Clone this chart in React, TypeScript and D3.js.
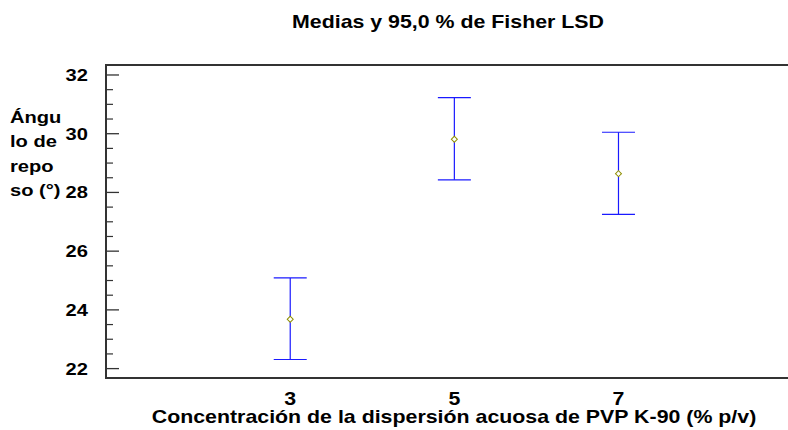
import { useMemo } from 'react';
import * as d3 from 'd3';

const W = 788;
const H = 430;

// data
const levels = [3, 5, 7];
const means = [23.68, 29.81, 28.64];
const lower = [22.31, 28.43, 27.25];
const upper = [25.09, 31.23, 30.05];
const yTicks = [22, 24, 26, 28, 30, 32];
const yLabelLines = ['Ángu', 'lo de', 'repo', 'so (°)'];

const title = 'Medias y 95,0 % de Fisher LSD';
const xTitle = 'Concentración de la dispersión acuosa de PVP K-90 (% p/v)';

const FONT = '"Liberation Sans", Arial, sans-serif';
const SX = 1.22; // the text in the picture is stretched sideways

function T({ x, y, size, anchor = 'start', children }: any) {
  return (
    <text transform={`translate(${x},${y}) scale(${SX},1)`} textAnchor={anchor}
      fontSize={size} fontWeight="bold" fill="#000">{children}</text>
  );
}

export default function App() {
  const margin = { top: 65, right: -2, bottom: 52, left: 106 };
  const innerW = W - margin.left - margin.right;
  const innerH = H - margin.top - margin.bottom;

  const x = useMemo(() => d3.scaleLinear().domain([0.755, 9.09]).range([0, innerW]), [innerW]);
  const y = useMemo(() => d3.scaleLinear().domain([21.68, 32.34]).range([innerH, 0]), [innerH]);

  const minor = d3.range(22, 32.01, 0.5).filter(v => !yTicks.includes(v));
  const cap = 16.5;
  const marker = d3.symbol(d3.symbolSquare, 18)()!;

  return (
    <svg width={W} height={H} style={{ position: 'absolute', left: 0, top: 0, background: '#fff' }}
      fontFamily={FONT}>
      <T x={448} y={27.5} size={17.5} anchor="middle">{title}</T>

      <g transform={`translate(${margin.left},${margin.top})`}>
        {/* frame */}
        <rect x={0} y={0} width={innerW} height={innerH} fill="none" stroke="#333" strokeWidth={2} />

        {/* y ticks */}
        {yTicks.map(t => (
          <g key={t}>
            <line x1={0} x2={13} y1={y(t)} y2={y(t)} stroke="#333" strokeWidth={1.3} />
            <line x1={innerW} x2={innerW - 2} y1={y(t)} y2={y(t)} stroke="#999" strokeWidth={1} />
            <T x={-18} y={y(t) + 5.9} size={16.5} anchor="end">{t}</T>
          </g>
        ))}
        {minor.map(t => (
          <line key={t} x1={0} x2={7} y1={y(t)} y2={y(t)} stroke="#333" strokeWidth={1.2} />
        ))}

        {/* error bars */}
        {levels.map((l, i) => {
          const cx = x(l);
          return (
            <g key={l}>
              <line x1={cx} x2={cx} y1={y(upper[i])} y2={y(lower[i])} stroke="#1a1aff" strokeWidth={1.2} />
              <line x1={cx - cap} x2={cx + cap} y1={y(upper[i])} y2={y(upper[i])} stroke="#1a1aff" strokeWidth={1.2} />
              <line x1={cx - cap} x2={cx + cap} y1={y(lower[i])} y2={y(lower[i])} stroke="#1a1aff" strokeWidth={1.2} />
              <path d={marker} transform={`translate(${cx},${y(means[i])}) rotate(45)`}
                fill="#fff" stroke="#8f8f00" strokeWidth={1} />
              <T x={cx} y={innerH + 27} size={17.5} anchor="middle">{l}</T>
            </g>
          );
        })}
      </g>

      <T x={454} y={423} size={17.5} anchor="middle">{xTitle}</T>

      {yLabelLines.map((s, i) => (
        <T key={s} x={10} y={123 + i * 24.4} size={16.5}>{s}</T>
      ))}
    </svg>
  );
}
